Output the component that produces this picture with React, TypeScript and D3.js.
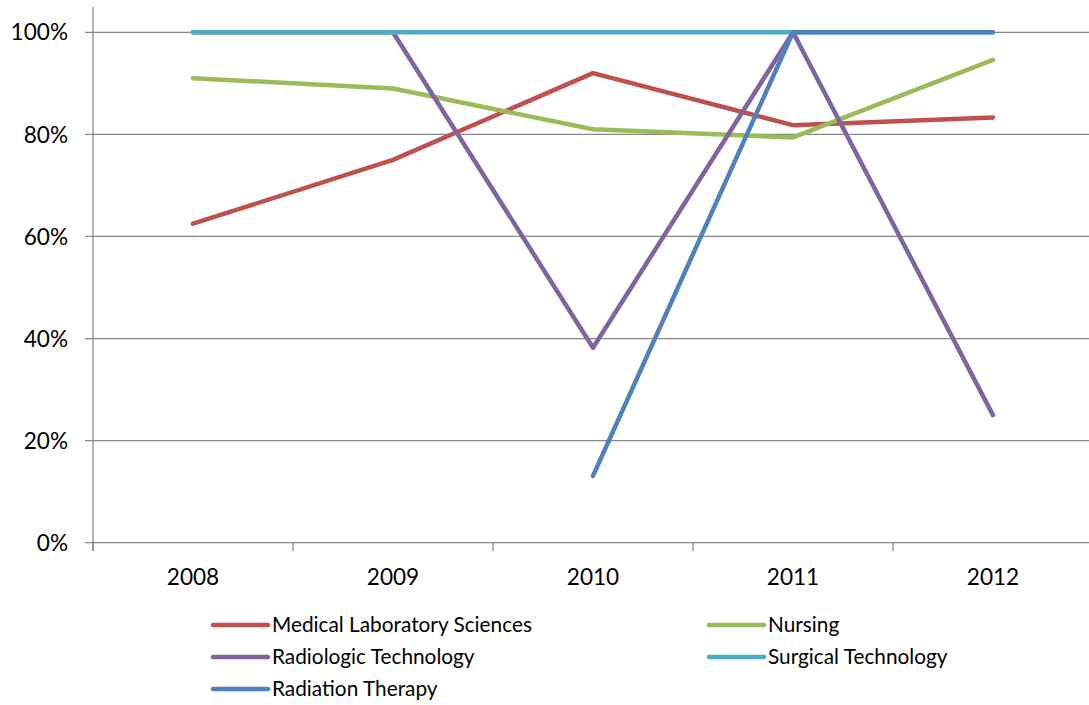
import React from "react";
import * as d3 from "d3";

const years = ["2008", "2009", "2010", "2011", "2012"];
const yTicks = [0, 0.2, 0.4, 0.6, 0.8, 1.0];

const medicalLab = [0.625, 0.75, 0.92, 0.818, 0.833];
const nursing = [0.91, 0.89, 0.81, 0.794, 0.946];
const radiologic = [1.0, 1.0, 0.382, 1.0, 0.25];
const surgical = [1.0, 1.0, 1.0, 1.0, 1.0];
const radiation: (number | null)[] = [null, null, 0.131, 1.0, 1.0];

const seriesNames = [
  "Medical Laboratory Sciences",
  "Nursing",
  "Radiologic Technology",
  "Surgical Technology",
  "Radiation Therapy",
];
const seriesColors = ["#C0504D", "#9BBB59", "#8064A2", "#4BACC6", "#4F81BD"];
const seriesValues: (number | null)[][] = [medicalLab, nursing, radiologic, surgical, radiation];

const W = 1089;
const H = 705;
const FONT = "Lato, 'Open Sans', sans-serif";

export default function App() {
  const x = d3.scaleBand<string>().domain(years).range([93, 1093]).paddingInner(0).paddingOuter(0);
  const y = d3.scaleLinear().domain([0, 1]).range([542.7, 32.3]);
  const cx = (d: string) => (x(d) as number) + x.bandwidth() / 2;
  const gridColor = "#878787";

  const line = d3
    .line<number | null>()
    .defined((d) => d != null)
    .x((_, i) => cx(years[i]))
    .y((d) => y(d as number));

  const tickEdges = years.map((d) => x(d) as number).concat([1093]);

  const legendItems = [
    { i: 0, lx: 213, ly: 625 },
    { i: 1, lx: 709, ly: 625 },
    { i: 2, lx: 213, ly: 657 },
    { i: 3, lx: 709, ly: 657 },
    { i: 4, lx: 213, ly: 689 },
  ];

  return (
    <svg
      width={W}
      height={H}
      style={{ position: "absolute", left: 0, top: 0, background: "#fff" }}
      fontFamily={FONT}
    >
      {yTicks.map((t) => (
        <g key={t}>
          <line x1={85} x2={W} y1={y(t)} y2={y(t)} stroke={gridColor} strokeWidth={1.3} />
          <text x={68} y={y(t)} dy="0.36em" textAnchor="end" fontSize={22.6} fill="#000">
            {d3.format(".0%")(t)}
          </text>
        </g>
      ))}
      <line x1={93} x2={93} y1={7} y2={551} stroke={gridColor} strokeWidth={1.3} />
      {tickEdges.map((e, i) => (
        <line key={i} x1={e} x2={e} y1={542.7} y2={551} stroke={gridColor} strokeWidth={1.3} />
      ))}
      {years.map((yr) => (
        <text key={yr} x={cx(yr)} y={585} textAnchor="middle" fontSize={22.6} fill="#000">
          {yr}
        </text>
      ))}
      {seriesValues.map((vals, i) => (
        <path
          key={seriesNames[i]}
          d={line(vals) || ""}
          fill="none"
          stroke={seriesColors[i]}
          strokeWidth={4.5}
          strokeLinecap="round"
          strokeLinejoin="round"
        />
      ))}
      {legendItems.map(({ i, lx, ly }) => (
        <g key={i}>
          <line
            x1={lx}
            x2={lx + 55}
            y1={ly}
            y2={ly}
            stroke={seriesColors[i]}
            strokeWidth={4.5}
            strokeLinecap="round"
          />
          <text x={lx + 59} y={ly} dy="0.36em" fontSize={20.8} fill="#000">
            {seriesNames[i]}
          </text>
        </g>
      ))}
    </svg>
  );
}
